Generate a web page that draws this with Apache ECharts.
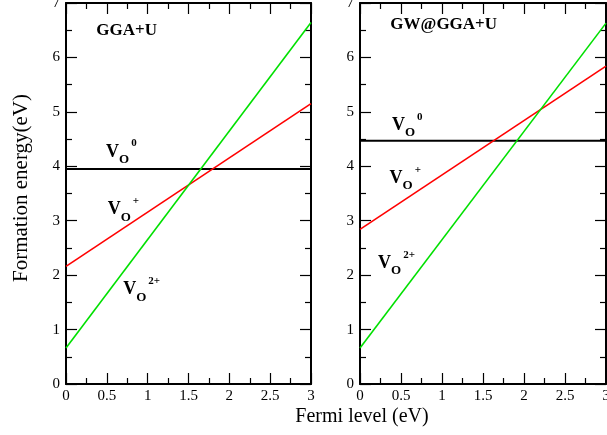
<!DOCTYPE html>
<html>
<head>
<meta charset="utf-8">
<script src="https://cdn.jsdelivr.net/npm/echarts@6/dist/echarts.min.js"></script>
<style>html,body{margin:0;padding:0;background:#fff}#c{width:607px;height:435px}</style>
</head>
<body>
<div id="c"></div>
<script>
// ---- data ----
const fermi = [0, 3];
const ggaV0 = [3.95, 3.95];
const ggaVplus = [2.16, 5.15];
const ggaV2plus = [0.66, 6.64];
const gwV0 = [4.47, 4.47];
const gwVplus = [2.84, 5.84];
const gwV2plus = [0.66, 6.63];
const panelTitles = ['GGA+U', 'GW@GGA+U'];
// label anchors [x, y] in data units, per panel: title, V0, V+, V2+
const ggaLabelPos = [[0.37, 6.5], [0.49, 4.26], [0.51, 3.2], [0.7, 1.73]];
const gwLabelPos = [[0.37, 6.6], [0.39, 4.75], [0.36, 3.78], [0.22, 2.22]];
const chargeSup = ['0', '+', '2+'];
const xTitle = 'Fermi level (eV)';
const yTitle = 'Formation energy(eV)';

const FONT = '"Liberation Serif", "Times New Roman", serif';
const chart = echarts.init(document.getElementById('c'));

function pairs(ys) { return fermi.map((x, i) => [x, ys[i]]); }

const grids = [
  { left: 66, top: 3, width: 245, height: 381, outerBoundsMode: 'none', containLabel: false },
  { left: 360, top: 3, width: 246, height: 381, outerBoundsMode: 'none', containLabel: false }
];

function makeAxis(g, pos, max, interval, showLabel) {
  const ax = {
    gridIndex: g, type: 'value', position: pos, min: 0, max: max, interval: interval,
    axisLine: { show: true, onZero: false, lineStyle: { color: '#000', width: 2 } },
    axisTick: { show: true, inside: true, length: 11, lineStyle: { color: '#000', width: 1.2 } },
    minorTick: { show: true, splitNumber: 2, length: 6, lineStyle: { color: '#000', width: 1.2 } },
    splitLine: { show: false },
    minorSplitLine: { show: false },
    axisLabel: { show: showLabel, color: '#000', fontFamily: FONT, fontSize: 15,
      margin: (pos === 'bottom') ? 5 : 6 }
  };
  return ax;
}

const xAxes = [], yAxes = [];
[0, 1].forEach(g => {
  xAxes.push(makeAxis(g, 'bottom', 3, 0.5, true));
  xAxes.push(makeAxis(g, 'top', 3, 0.5, false));
  yAxes.push(makeAxis(g, 'left', 7, 1, true));
  yAxes.push(makeAxis(g, 'right', 7, 1, false));
});

const rich = {
  t: { fontFamily: FONT, fontSize: 17, fontWeight: 'bold', color: '#000' },
  v: { fontFamily: FONT, fontSize: 18, fontWeight: 'bold', color: '#000', lineHeight: 28, verticalAlign: 'middle' },
  o: { fontFamily: FONT, fontSize: 13, fontWeight: 'bold', color: '#000', lineHeight: 12, verticalAlign: 'bottom' },
  s: { fontFamily: FONT, fontSize: 11, fontWeight: 'bold', color: '#000', lineHeight: 10, verticalAlign: 'top', padding: [0, 0, 0, 2] }
};

function labelSeries(g, pos, title) {
  const data = [
    { value: pos[0], label: { formatter: '{t|' + title + '}' } },
    { value: pos[1], label: { formatter: '{v|V}{o|O}{s|' + chargeSup[0] + '}' } },
    { value: pos[2], label: { formatter: '{v|V}{o|O}{s|' + chargeSup[1] + '}' } },
    { value: pos[3], label: { formatter: '{v|V}{o|O}{s|' + chargeSup[2] + '}' } }
  ];
  return {
    type: 'scatter', xAxisIndex: g * 2, yAxisIndex: g * 2, symbolSize: 0, silent: true,
    itemStyle: { opacity: 1 },
    data: data,
    label: { show: true, opacity: 1, position: [0, 0], align: 'left', verticalAlign: 'middle', rich: rich }
  };
}

function line(g, ys, color, width) {
  return { type: 'line', xAxisIndex: g * 2, yAxisIndex: g * 2, data: pairs(ys),
    showSymbol: false, symbol: 'none', silent: true,
    lineStyle: { color: color, width: width } };
}

chart.setOption({
  animation: false,
  grid: grids,
  xAxis: xAxes,
  yAxis: yAxes,
  graphic: [{
    type: 'text', x: 362, y: 407,
    style: { text: xTitle, font: '20px ' + FONT, fill: '#000', textAlign: 'center' }
  }, {
    type: 'text', x: 21, y: 188, rotation: Math.PI / 2,
    style: { text: yTitle, font: '21px ' + FONT, fill: '#000', textAlign: 'center', textVerticalAlign: 'middle' }
  }],
  series: [
    line(0, ggaV0, '#000', 2),
    line(0, ggaVplus, '#ff0000', 1.6),
    line(0, ggaV2plus, '#00e000', 1.6),
    line(1, gwV0, '#000', 2),
    line(1, gwVplus, '#ff0000', 1.6),
    line(1, gwV2plus, '#00e000', 1.6),
    labelSeries(0, ggaLabelPos, panelTitles[0]),
    labelSeries(1, gwLabelPos, panelTitles[1])
  ]
});
</script>
</body>
</html>
